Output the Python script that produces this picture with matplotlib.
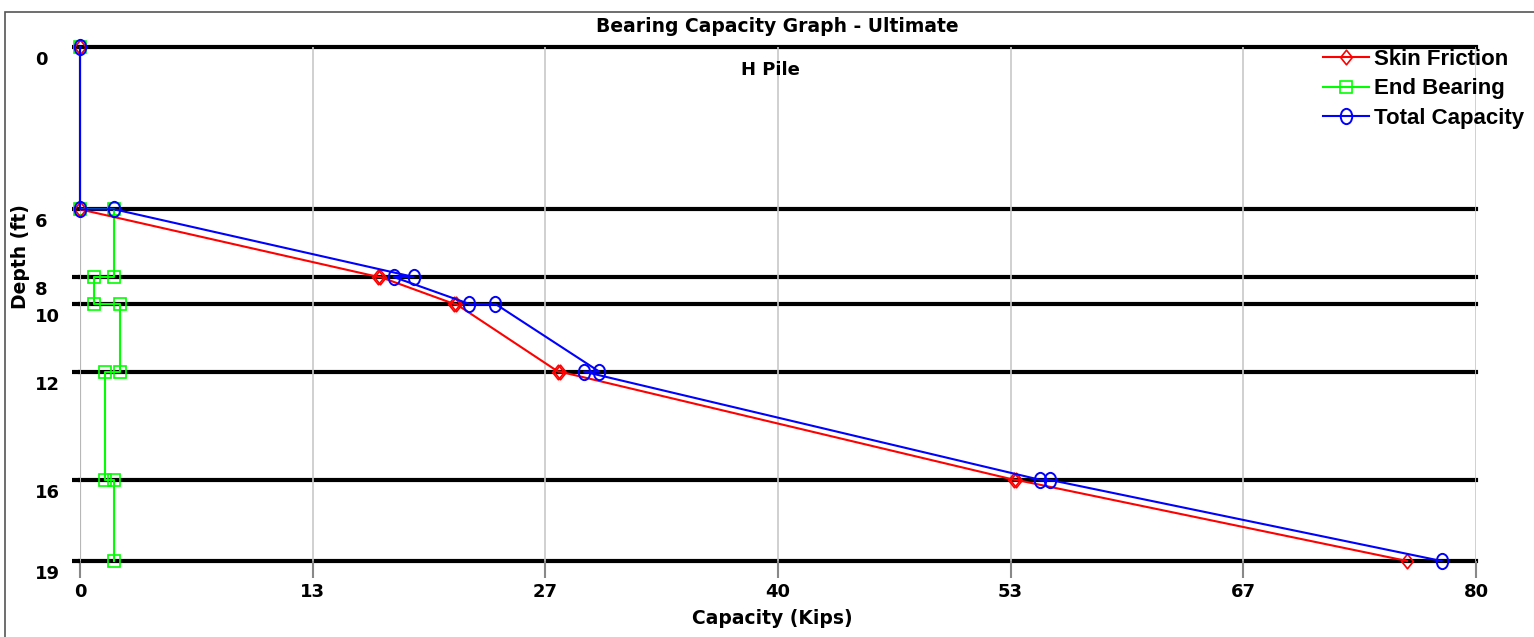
import numpy as np
import matplotlib
matplotlib.use('Agg')
import matplotlib.pyplot as plt
from matplotlib.path import Path
from matplotlib.patches import Rectangle
from matplotlib.transforms import ScaledTranslation

# layer boundaries (ft) and how the program labels them
layer_depths = [0, 6, 8.5, 9.5, 12, 16, 19]
depth_labels = ['0', '6', '8', '10', '12', '16', '19']

cap_ticks = [0, 13.33, 26.67, 40, 53.33, 66.67, 80]
cap_labels = ['0', '13', '27', '40', '53', '67', '80']

skin_depth = [0, 6, 8.5, 8.5, 9.5, 9.5, 12, 12, 16, 16, 19]
skin_kips = [0, 0, 17.1, 17.2, 21.45, 21.55, 27.4, 27.5, 53.55, 53.65, 76.05]

end_depth = [0, 6, 6, 8.5, 8.5, 9.5, 9.5, 12, 12, 16, 16, 19]
end_kips = [0, 0, 1.97, 1.97, 0.82, 0.82, 2.31, 2.31, 1.43, 1.43, 1.97, 1.97]

total_depth = [0, 6, 6, 8.5, 8.5, 9.5, 9.5, 12, 12, 16, 16, 19]
total_kips = [0, 0, 1.97, 19.12, 17.97, 22.32, 23.81, 29.76, 28.88, 55.03, 55.57, 78.03]

W, H = 1534, 637
fig = plt.figure(figsize=(W / 100.0, H / 100.0), dpi=100)
fig.patch.set_facecolor('white')

ax = fig.add_axes([80.0 / W, 1 - 561.0 / H, (1476.0 - 80) / W, (561.0 - 47) / H])
for s in ax.spines.values():
    s.set_visible(False)

# tall ellipse / diamond markers like the original program draws
circ = Path.unit_circle()
ellipse = Path(circ.vertices * np.array([0.75, 1.0]), circ.codes)
diamond = Path([(0, -1), (0.8, 0), (0, 1), (-0.8, 0), (0, -1)],
               [Path.MOVETO, Path.LINETO, Path.LINETO, Path.LINETO, Path.CLOSEPOLY])

for d in layer_depths:
    ax.axhline(d, color='black', lw=3, zorder=1, clip_on=False)
ax.axvline(0, color='#666666', lw=1.5, zorder=1.2)

r1, = ax.plot(skin_kips, skin_depth, color='red', lw=1.5, marker=diamond, ms=10.5,
              mfc='none', mec='red', mew=1.2, clip_on=False, zorder=3)
r2, = ax.plot(end_kips, end_depth, color='#00ff00', lw=1.5, marker='s', ms=8,
              mfc='none', mec='#00ff00', mew=1.2, clip_on=False, zorder=2.5)
r3, = ax.plot(total_kips, total_depth, color='blue', lw=1.5, marker=ellipse, ms=11,
              mfc='none', mec='blue', mew=1.4, clip_on=False, zorder=4)

ax.set_xlim(0, 80)
ax.set_ylim(19, 0)

ax.set_xticks(cap_ticks)
ax.set_xticklabels(cap_labels, fontsize=13, fontweight='bold')
ax.tick_params(axis='x', length=12, width=1.5, color='#888888', pad=4)
ax.grid(axis='x', color='#c8c8c8', lw=1.2, zorder=0)

ax.set_yticks(layer_depths)
ax.set_yticklabels(depth_labels, fontsize=13, fontweight='bold')
ax.tick_params(axis='y', length=6, width=3, color='black', pad=26.4)
shift = ScaledTranslation(0, -11 / 100.0, fig.dpi_scale_trans)
for lab in ax.get_yticklabels():
    lab.set_ha('left')
    lab.set_transform(lab.get_transform() + shift)

fig.text(777.0 / W, 1 - 27.0 / H, 'Bearing Capacity Graph - Ultimate',
         ha='center', va='center', fontsize=13.5, fontweight='bold')
fig.text(770.0 / W, 1 - 70.0 / H, 'H Pile', ha='center', va='center',
         fontsize=13, fontweight='bold')
fig.text(772.0 / W, 1 - 618.0 / H, 'Capacity (Kips)', ha='center', va='center',
         fontsize=13.5, fontweight='bold')
fig.text(21.0 / W, 1 - 257.0 / H, 'Depth (ft)', ha='center', va='center',
         rotation=90, fontsize=13.5, fontweight='bold')

fig.legend([r1, r2, r3], ['Skin Friction', 'End Bearing', 'Total Capacity'],
           loc='upper left', bbox_to_anchor=(1323.0 / W, 1 - 49.0 / H),
           frameon=False, borderpad=0, borderaxespad=0, handlelength=2.06,
           handletextpad=0.22, labelspacing=0.38,
           prop={'family': 'Liberation Sans', 'weight': 'bold', 'size': 16})

fig.patches.append(Rectangle((5.0 / W, -0.05), 1.2, 1.05 - 12.0 / H, fill=False,
                             edgecolor='#555555', lw=1.2, transform=fig.transFigure))

fig.savefig('out.png', dpi=100)
